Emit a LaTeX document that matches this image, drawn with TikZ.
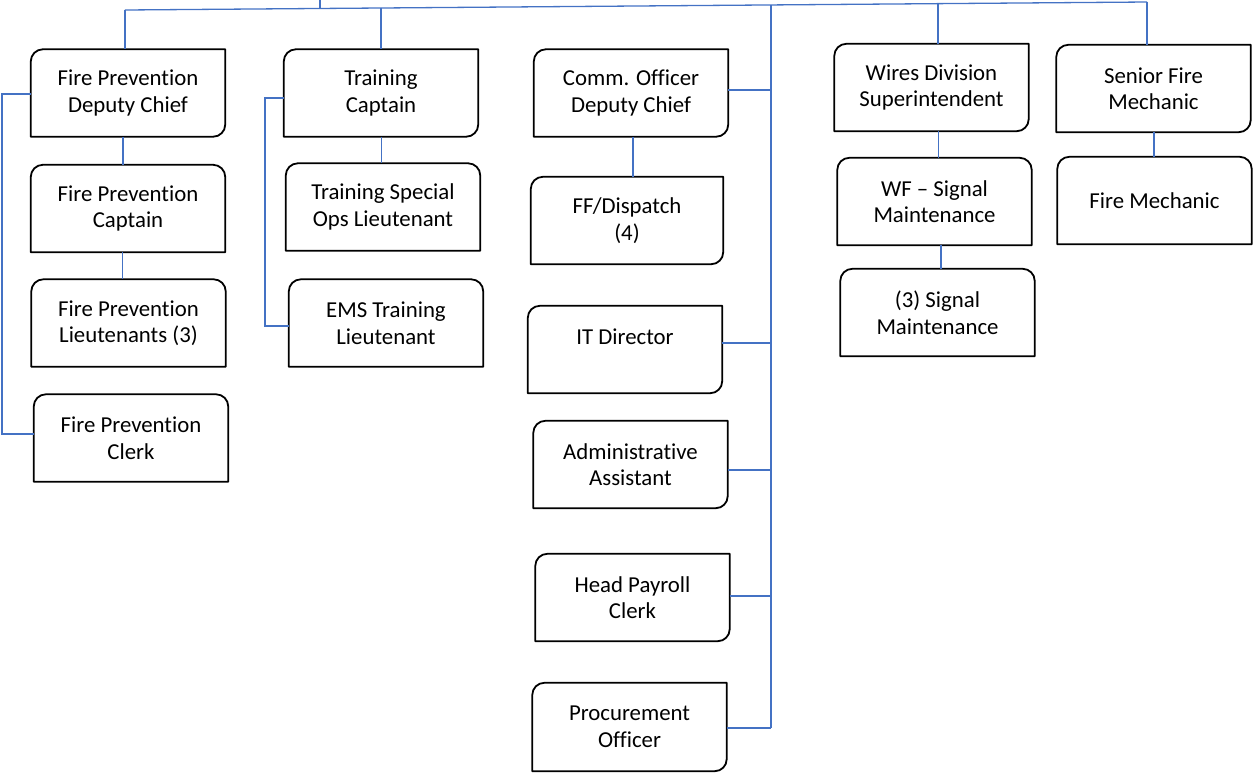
\documentclass[tikz,border=0pt]{standalone}
\usepackage{fontspec}
\setmainfont{Carlito}[Ligatures={NoCommon,NoRequired,NoContextual}]
\usetikzlibrary{calc}
\definecolor{linkblue}{HTML}{4472C4}
\newlength{\rr}\setlength{\rr}{12pt}
\newcommand\diagbox[1]{\draw[boxline] ([yshift=-\rr]#1.north west) arc[start angle=180,end angle=90,radius=\rr] -- (#1.north east) -- ([yshift=\rr]#1.south east) arc[start angle=0,end angle=-90,radius=\rr] -- (#1.south west) -- cycle;}
\newcommand\topbox[1]{\draw[boxline] ([yshift=-\rr]#1.north west) arc[start angle=180,end angle=90,radius=\rr] -- ([xshift=-\rr]#1.north east) arc[start angle=90,end angle=0,radius=\rr] -- (#1.south east) -- (#1.south west) -- cycle;}
\begin{document}
\begin{tikzpicture}[x=1pt,y=-1pt,
  bx/.style={inner sep=0pt,minimum width=194pt,minimum height=87pt,align=center,
    font=\fontsize{22.8pt}{26.5pt}\selectfont},
  boxline/.style={draw=black,line width=1.8pt,line join=round},
  link/.style={draw=linkblue,line width=1.3pt}]
\useasboundingbox (0,0) rectangle (1253,772);
% nodes
\node[bx] (fpdc) at (128,93) {Fire Prevention\\Deputy Chief};
\node[bx] (fpc) at (128,208.5) {Fire Prevention\\Captain};
\node[bx] (fpl) at (128.5,323) {Fire Prevention\\Lieutenants (3)};
\node[bx] (fpcl) at (131,438) {Fire Prevention\\Clerk};
\node[bx] (tc) at (381,93) {Training\\Captain};
\node[bx] (tso) at (383,207) {Training Special\\Ops Lieutenant};
\node[bx] (ems) at (386,323) {EMS Training\\Lieutenant};
\node[bx] (cod) at (631,93) {Comm. Officer\\Deputy Chief};
\node[bx,minimum width=192pt] (ffd) at (627,220.5) {FF/Dispatch\\(4)};
\node[bx] (itd) at (625,349.5) {IT Director\\\mbox{}};
\node[bx] (aa) at (630.5,464.5) {Administrative\\Assistant};
\node[bx] (hpc) at (632.5,597.5) {Head Payroll\\Clerk};
\node[bx,minimum height=88pt] (po) at (629.5,727) {Procurement\\Officer};
\node[bx] (wds) at (931.5,87.5) {Wires Division\\Superintendent};
\node[bx] (wfs) at (934.5,201.5) {WF -- Signal\\Maintenance};
\node[bx] (tsm) at (937.5,312.5) {(3) Signal\\Maintenance};
\node[bx] (sfm) at (1153.5,88.5) {Senior Fire\\Mechanic};
\node[bx] (fm) at (1154.5,200.5) {Fire Mechanic};
% outlines
\diagbox{fpdc}\topbox{fpc}\topbox{fpl}\topbox{fpcl}
\diagbox{tc}\topbox{tso}\topbox{ems}
\diagbox{cod}\diagbox{ffd}\diagbox{itd}\diagbox{aa}\diagbox{hpc}\diagbox{po}
\diagbox{wds}\topbox{wfs}\topbox{tsm}
\diagbox{sfm}\topbox{fm}
% top bus
\coordinate (root) at (320,0);
\coordinate (tL) at (125,10);
\coordinate (tR) at (1147,2);
\coordinate (tRoot) at (320,8.5);
\coordinate (tTr) at (381,7.6);
\coordinate (tBus) at (771,4.9);
\coordinate (tW) at (938,3.5);
\draw[link] (tL) -- (tR);
\draw[link] (root) -- (tRoot);
\draw[link] (tL) -- (tL |- fpdc.north);
\draw[link] (tTr) -- (tTr |- tc.north);
\draw[link] (tW) -- (tW |- wds.north);
\draw[link] (tR) -- (tR |- sfm.north);
% right bus
\coordinate (busEnd) at (771,728);
\draw[link] (tBus) -- (busEnd);
\draw[link] ([yshift=3pt]cod.east) -- ([yshift=3pt]cod.east -| tBus);
\draw[link] ([yshift=6.5pt]itd.east) -- ([yshift=6.5pt]itd.east -| tBus);
\draw[link] ([yshift=-5.5pt]aa.east) -- ([yshift=-5.5pt]aa.east -| tBus);
\draw[link] ([yshift=1.5pt]hpc.east) -- ([yshift=1.5pt]hpc.east -| tBus);
\draw[link] ([yshift=-1pt]po.east) -- (busEnd);
% left buses
\coordinate (lb) at (2,94);
\draw[link] ([yshift=-1pt]fpdc.west) -- (lb) -- (lb |- 0,434) -- ([yshift=4pt]fpcl.west);
\coordinate (tb) at (265,98);
\draw[link] ([yshift=-5pt]tc.west) -- (tb) -- (tb |- 0,326) -- ([yshift=-3pt]ems.west);
% vertical children
\draw[link] ([xshift=-5pt]fpdc.south) -- ([xshift=-5pt]fpc.north);
\draw[link] ([xshift=-5.5pt]fpc.south) -- ([xshift=-6pt]fpl.north);
\draw[link] ([xshift=0.7pt]tc.south) -- ([xshift=-1.3pt]tso.north);
\draw[link] ([xshift=2pt]cod.south) -- ([xshift=6pt]ffd.north);
\draw[link] ([xshift=7.2pt]wds.south) -- ([xshift=4.2pt]wfs.north);
\draw[link] ([xshift=6.5pt]wfs.south) -- ([xshift=3.5pt]tsm.north);
\draw[link] ([xshift=0.5pt]sfm.south) -- ([xshift=-0.5pt]fm.north);
\end{tikzpicture}
\end{document}
